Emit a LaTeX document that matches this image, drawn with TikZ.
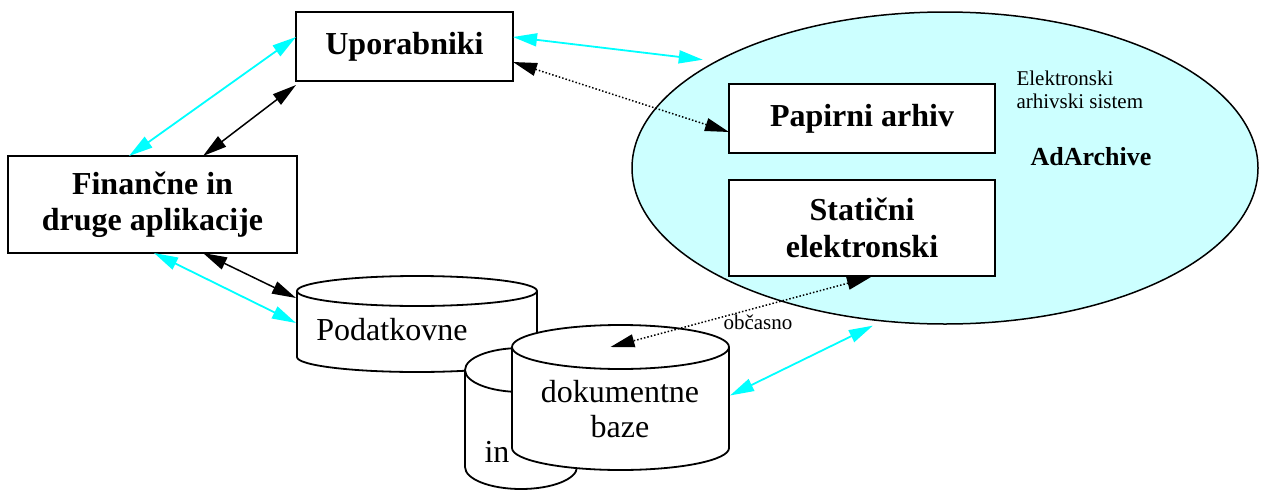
\documentclass[tikz,border=0pt]{standalone}
\usepackage{fontspec}
\setmainfont{Liberation Serif}
\usetikzlibrary{arrows.meta,shapes.geometric,calc}
\definecolor{linkcyan}{RGB}{0,255,255}
\definecolor{archfill}{RGB}{204,255,255}

% cylinder drawn around an invisible body node: #1 node, #2 x radius, #3 y radius
\newcommand\drumshape[3]{%
  \path[cylline] (#1.north west) -- (#1.south west)
     arc[start angle=180,end angle=360,x radius=#2,y radius=#3]
     -- (#1.north east)
     arc[start angle=0,end angle=180,x radius=#2,y radius=#3] -- cycle;
  \draw[line width=1.8pt] (#1.north west)
     arc[start angle=180,end angle=360,x radius=#2,y radius=#3];
}

\begin{document}
\begin{tikzpicture}[x=1pt,y=-1pt,
  big/.style={font=\fontsize{32pt}{36.5pt}\selectfont},
  bigbold/.style={font=\fontsize{32pt}{36.5pt}\selectfont\bfseries},
  small/.style={font=\fontsize{21pt}{23pt}\selectfont},
  box/.style={draw, line width=1.8pt, fill=white, inner sep=0pt, outer sep=0pt, align=center, bigbold},
  body/.style={inner sep=0pt, outer sep=0pt},
  cylline/.style={draw, line width=1.8pt, fill=white},
  >={Triangle[length=24pt,width=13pt]},
  flow/.style={<->, line width=1.5pt},
  cyanflow/.style={flow, color=linkcyan, line width=1.8pt},
  dotflow/.style={flow, dotted}
]
\useasboundingbox (0,0) rectangle (1261,490);

% archive system
\node[ellipse, draw, line width=1.5pt, fill=archfill, minimum width=626pt,
      minimum height=312pt, inner sep=0pt] (arch) at (945,168) {};
\node[box, minimum width=266pt, minimum height=69pt] (pap) at (862,118.5) {Papirni arhiv};
\node[box, minimum width=266pt, minimum height=96pt] (stat) at (862,228) {Statični\\elektronski};
\node[small, anchor=base west] (elk1) at (1013,85) {Elektronski};
\node[small, anchor=base west] (elk2) at (1013,108) {arhivski sistem};
\node[font=\fontsize{26pt}{30pt}\selectfont\bfseries] (adarch) at (1091,157) {AdArchive};

% users and applications
\node[box, minimum width=217pt, minimum height=69pt] (up) at (404.5,46.5) {Uporabniki};
\node[box, minimum width=289pt, minimum height=97pt] (fin) at (152.5,204.5) {Finančne in\\druge aplikacije};

% databases
\node[body, minimum width=240pt, minimum height=66pt] (pod) at (417,324) {};
\drumshape{pod}{120pt}{15pt}
\node[big] (podtxt) at (392,330) {Podatkovne};

\node[body, minimum width=112pt, minimum height=97pt] (inb) at (521,418.5) {};
\drumshape{inb}{56pt}{22pt}
\node[big] (intxt) at (497,452) {in};

\node[body, minimum width=217pt, minimum height=101pt] (dok) at (620.5,397.5) {};
\drumshape{dok}{108.5pt}{22pt}
\node[big, align=center, font=\fontsize{32pt}{35pt}\selectfont] (doktxt) at (620,409.5) {dokumentne\\baze};

% connections
\draw[cyanflow] ($(fin.north west)+(121,0)$) -- ($(up.north west)+(0,25)$);
\draw[flow] ($(fin.north west)+(195,0)$) -- ($(up.south west)+(0,4)$);
\draw[cyanflow] ($(fin.south west)+(146,0)$) -- ($(pod.north west)+(-1,32)$);
\draw[flow] ($(fin.south west)+(195,0)$) -- ($(pod.north west)+(-1,7)$);
\draw[cyanflow] ($(up.north east)+(0,25)$) -- ($(arch.156)+(-8,-4)$);
\draw[dotflow] ($(up.north east)+(0,50)$) -- ($(pap.south west)+(0,-21)$);
\draw[dotflow] ($(stat.south west)+(142,1)$) -- ($(dok.north)+(-10,0)$);
\draw[cyanflow] ($(arch.245)+(-1,5)$) -- ($(dok.east)+(1,-2)$);
\node[small] (obc) at (758,322) {občasno};
\end{tikzpicture}
\end{document}
